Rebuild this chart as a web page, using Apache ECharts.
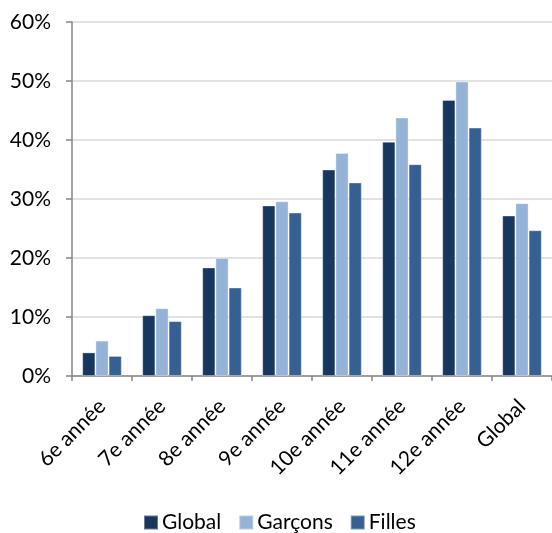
<!DOCTYPE html>
<html>
<head>
<meta charset="utf-8">
<script src="https://cdn.jsdelivr.net/npm/echarts@6/dist/echarts.min.js"></script>
<style>
  html, body { margin: 0; padding: 0; background: #fff; }
  #chart { width: 552px; height: 533px; }
</style>
</head>
<body>
<div id="chart"></div>
<script>
// School grades and shares (%) per group
const categories = ['6e année', '7e année', '8e année', '9e année', '10e année', '11e année', '12e année', 'Global'];
const globalValues = [4.0, 10.3, 18.4, 28.9, 35.0, 39.7, 46.8, 27.2];
const garconsValues = [6.0, 11.5, 20.0, 29.6, 37.8, 43.8, 49.9, 29.3];
const fillesValues = [3.4, 9.3, 15.0, 27.7, 32.8, 35.9, 42.1, 24.7];
const yTicks = { min: 0, max: 60, interval: 10 };

const FONT = 'Lato';
const chart = echarts.init(document.getElementById('chart'), null, { renderer: 'canvas' });

function barSeries(name, data, color) {
  return {
    name: name,
    type: 'bar',
    data: data,
    barGap: '0%',
    barCategoryGap: '34%',
    itemStyle: { color: color, borderColor: 'rgba(255,255,255,0.35)', borderWidth: 1 },
    emphasis: { disabled: true }
  };
}

chart.setOption({
  animation: false,
  textStyle: { fontFamily: FONT },
  grid: { left: 72, top: 22, width: 487, height: 354, containLabel: false },
  legend: {
    top: 507,
    left: 138,
    itemWidth: 14,
    itemHeight: 14,
    itemGap: 17,
    icon: 'rect',
    textStyle: { fontFamily: FONT, fontSize: 21, color: '#000', padding: [0, 0, 0, -1] },
    data: ['Global', 'Garçons', 'Filles']
  },
  xAxis: {
    type: 'category',
    data: categories,
    axisLine: { lineStyle: { color: '#868686', width: 1.5 } },
    axisTick: { show: true, length: 5, lineStyle: { color: '#868686', width: 1.5 } },
    axisLabel: {
      rotate: 45,
      margin: 27,
      fontFamily: FONT,
      fontSize: 21,
      color: '#000'
    }
  },
  yAxis: {
    type: 'value',
    min: yTicks.min,
    max: yTicks.max,
    interval: yTicks.interval,
    axisLine: { show: true, lineStyle: { color: '#868686', width: 1.5 } },
    axisTick: { show: true, length: 6, lineStyle: { color: '#868686', width: 1.5 } },
    splitLine: { lineStyle: { color: '#d9d9d9', width: 1.5 } },
    axisLabel: {
      formatter: '{value}%',
      margin: 21,
      fontFamily: FONT,
      fontSize: 21,
      color: '#000'
    }
  },
  series: [
    barSeries('Global', globalValues, '#17375e'),
    barSeries('Garçons', garconsValues, '#95b3d7'),
    barSeries('Filles', fillesValues, '#376092')
  ]
});
</script>
</body>
</html>
